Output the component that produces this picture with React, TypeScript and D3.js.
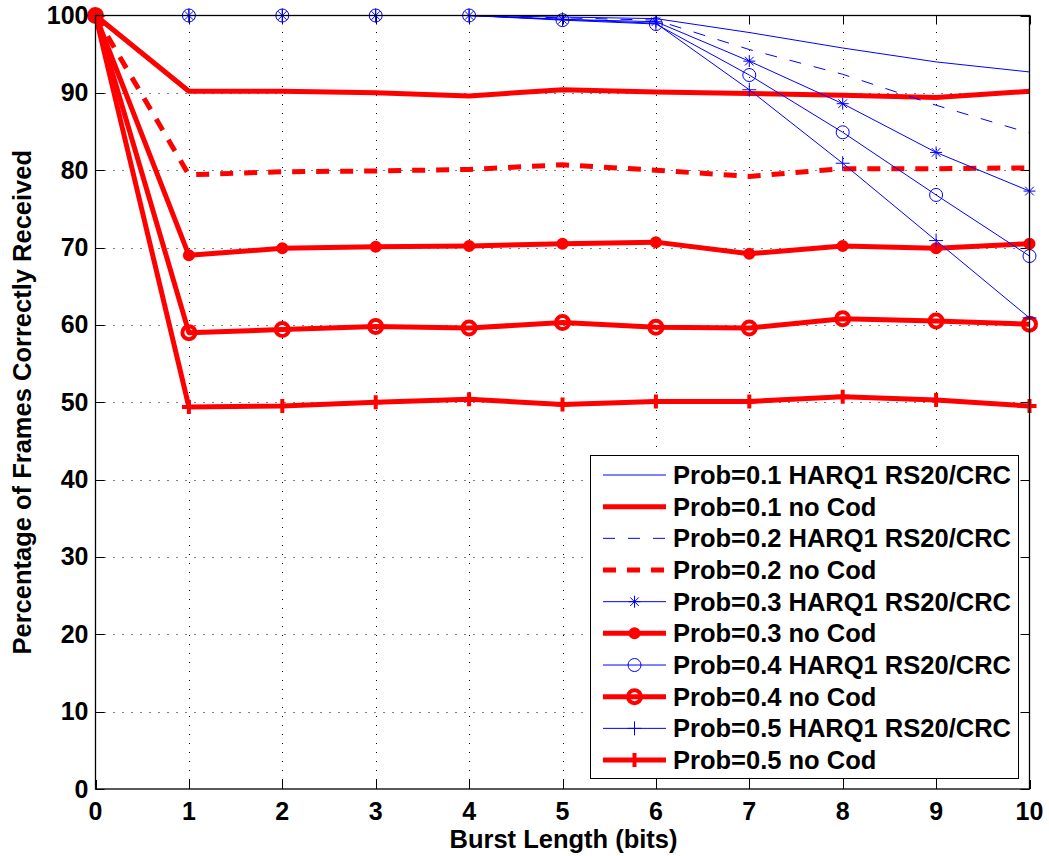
import React, { useEffect, useRef } from "react";
import * as d3 from "d3";

const burstLengths = [0, 1, 2, 3, 4, 5, 6, 7, 8, 9, 10];

const harq01 = [100, 100, 100, 100, 100, 99.8, 99.6, 97.8, 95.8, 94.0, 92.7];
const noCod01 = [100, 90.2, 90.2, 90.0, 89.6, 90.4, 90.1, 89.9, 89.7, 89.4, 90.2];
const harq02 = [100, 100, 100, 100, 100, 99.7, 99.4, 95.6, 92.4, 88.4, 84.8];
const noCod02 = [100, 79.4, 79.8, 79.9, 80.1, 80.7, 80.0, 79.2, 80.2, 80.2, 80.3];
const harq03 = [100, 100, 100, 100, 100, 99.5, 99.2, 94.1, 88.6, 82.3, 77.3];
const noCod03 = [100, 69.0, 69.9, 70.1, 70.2, 70.5, 70.7, 69.2, 70.2, 69.9, 70.5];
const harq04 = [100, 100, 100, 100, 100, 99.4, 98.9, 92.3, 84.9, 76.8, 68.9];
const noCod04 = [100, 59.0, 59.4, 59.8, 59.6, 60.3, 59.7, 59.6, 60.8, 60.5, 60.1];
const harq05 = [100, 100, 100, 100, 100, 99.5, 99.0, 90.4, 80.9, 70.9, 60.9];
const noCod05 = [100, 49.4, 49.5, 50.0, 50.4, 49.7, 50.1, 50.1, 50.7, 50.3, 49.5];

const seriesNames = [
  "Prob=0.1 HARQ1 RS20/CRC",
  "Prob=0.1 no Cod",
  "Prob=0.2 HARQ1 RS20/CRC",
  "Prob=0.2 no Cod",
  "Prob=0.3 HARQ1 RS20/CRC",
  "Prob=0.3 no Cod",
  "Prob=0.4 HARQ1 RS20/CRC",
  "Prob=0.4 no Cod",
  "Prob=0.5 HARQ1 RS20/CRC",
  "Prob=0.5 no Cod",
];

const xTicks = [0, 1, 2, 3, 4, 5, 6, 7, 8, 9, 10];
const yTicks = [0, 10, 20, 30, 40, 50, 60, 70, 80, 90, 100];

type Marker = "none" | "star" | "dot" | "circle" | "plus";
type Style = { color: string; width: number; dash: string | null; marker: Marker };

const styles: Style[] = [
  { color: "#0000ff", width: 1, dash: null, marker: "none" },
  { color: "#ff0000", width: 5, dash: null, marker: "none" },
  { color: "#0000ff", width: 1, dash: "12,13", marker: "none" },
  { color: "#ff0000", width: 5, dash: "13,11", marker: "none" },
  { color: "#0000ff", width: 1, dash: null, marker: "star" },
  { color: "#ff0000", width: 5, dash: null, marker: "dot" },
  { color: "#0000ff", width: 1, dash: null, marker: "circle" },
  { color: "#ff0000", width: 5, dash: null, marker: "circle" },
  { color: "#0000ff", width: 1, dash: null, marker: "plus" },
  { color: "#ff0000", width: 5, dash: null, marker: "plus" },
];

const FONT = "Arial, 'Liberation Sans', Helvetica, sans-serif";

function drawMarker(g: any, kind: Marker, cx: number, cy: number, color: string, thick: boolean) {
  const sw = thick ? 4 : 1;
  if (kind === "star") {
    const s = 6;
    const d = s * 0.72;
    g.append("path")
      .attr("d", `M${cx - s},${cy}L${cx + s},${cy}M${cx},${cy - s}L${cx},${cy + s}M${cx - d},${cy - d}L${cx + d},${cy + d}M${cx - d},${cy + d}L${cx + d},${cy - d}`)
      .attr("stroke", color)
      .attr("stroke-width", sw)
      .attr("fill", "none");
  } else if (kind === "dot") {
    g.append("circle")
      .attr("cx", cx)
      .attr("cy", cy)
      .attr("r", 5)
      .attr("fill", color)
      .attr("stroke", color)
      .attr("stroke-width", 2);
  } else if (kind === "circle") {
    g.append("circle")
      .attr("cx", cx)
      .attr("cy", cy)
      .attr("r", 6.5)
      .attr("fill", "none")
      .attr("stroke", color)
      .attr("stroke-width", sw);
  } else if (kind === "plus") {
    const s = 7;
    g.append("path")
      .attr("d", `M${cx - s},${cy}L${cx + s},${cy}M${cx},${cy - s}L${cx},${cy + s}`)
      .attr("stroke", color)
      .attr("stroke-width", sw)
      .attr("fill", "none");
  }
}

const App = () => {
  const ref = useRef<SVGSVGElement | null>(null);

  useEffect(() => {
    const W = 1049;
    const H = 856;
    const left = 95.5;
    const right = 1029.5;
    const top = 15.5;
    const bottom = 789;

    const svg = d3.select(ref.current).attr("width", W).attr("height", H);
    svg.selectAll("*").remove();

    const x = d3.scaleLinear().domain([0, 10]).range([left, right]);
    const y = d3.scaleLinear().domain([0, 100]).range([bottom, top]);

    svg.append("rect").attr("width", W).attr("height", H).attr("fill", "#fff");

    // grid
    const grid = svg.append("g").attr("stroke", "#000").attr("stroke-width", 1).attr("stroke-dasharray", "1,8");
    xTicks.slice(1, -1).forEach((t) => {
      grid.append("line").attr("x1", Math.round(x(t)) + 0.5).attr("x2", Math.round(x(t)) + 0.5).attr("y1", bottom).attr("y2", top);
    });
    yTicks.slice(1, -1).forEach((t) => {
      grid.append("line").attr("x1", left).attr("x2", right).attr("y1", Math.round(y(t)) + 0.5).attr("y2", Math.round(y(t)) + 0.5);
    });

    // ticks (inward, all four sides)
    const ticks = svg.append("g").attr("stroke", "#000").attr("stroke-width", 1);
    const tl = 9;
    xTicks.forEach((t) => {
      const px = Math.round(x(t)) + 0.5;
      ticks.append("line").attr("x1", px).attr("x2", px).attr("y1", bottom).attr("y2", bottom - tl);
      ticks.append("line").attr("x1", px).attr("x2", px).attr("y1", top).attr("y2", top + tl);
    });
    yTicks.forEach((t) => {
      const py = Math.round(y(t)) + 0.5;
      ticks.append("line").attr("x1", left).attr("x2", left + tl).attr("y1", py).attr("y2", py);
      ticks.append("line").attr("x1", right).attr("x2", right - tl).attr("y1", py).attr("y2", py);
    });

    // series
    const line = d3
      .line<number>()
      .x((d, i) => x(burstLengths[i]))
      .y((d) => y(d));
    const allSeries = [harq01, noCod01, harq02, noCod02, harq03, noCod03, harq04, noCod04, harq05, noCod05];
    const plot = svg.append("g");
    allSeries.forEach((vals, k) => {
      const st = styles[k];
      const p = plot
        .append("path")
        .datum(vals)
        .attr("d", line)
        .attr("fill", "none")
        .attr("stroke", st.color)
        .attr("stroke-width", st.width)
        .attr("stroke-linejoin", "round");
      if (st.dash) p.attr("stroke-dasharray", st.dash);
      if (st.marker !== "none") {
        const mg = plot.append("g");
        vals.forEach((v, i) => drawMarker(mg, st.marker, x(burstLengths[i]), y(v), st.color, st.width > 1));
      }
    });

    // axes box
    svg
      .append("rect")
      .attr("x", left)
      .attr("y", top)
      .attr("width", right - left)
      .attr("height", bottom - top)
      .attr("fill", "none")
      .attr("stroke", "#000")
      .attr("stroke-width", 1.3);

    // tick labels
    const tlab = svg.append("g").style("font-family", FONT).style("font-weight", "bold").style("font-size", "25px");
    yTicks.forEach((t) => {
      tlab
        .append("text")
        .attr("x", left - 7)
        .attr("y", y(t) + 8.5)
        .attr("text-anchor", "end")
        .text(t);
    });
    xTicks.forEach((t) => {
      tlab
        .append("text")
        .attr("x", x(t))
        .attr("y", 820)
        .attr("text-anchor", "middle")
        .text(t);
    });

    // axis titles
    svg
      .append("text")
      .attr("x", (left + right) / 2 + 1)
      .attr("y", 848)
      .attr("text-anchor", "middle")
      .style("font-family", FONT)
      .style("font-weight", "bold")
      .style("font-size", "25.5px")
      .text("Burst Length (bits)");
    svg
      .append("text")
      .attr("transform", `translate(31,${(top + bottom) / 2}) rotate(-90)`)
      .attr("text-anchor", "middle")
      .style("font-family", FONT)
      .style("font-weight", "bold")
      .style("font-size", "25.5px")
      .text("Percentage of Frames Correctly Received");

    // legend
    const lg = svg.append("g");
    lg.append("rect")
      .attr("x", 590.5)
      .attr("y", 455.5)
      .attr("width", 428)
      .attr("height", 323)
      .attr("fill", "#fff")
      .attr("stroke", "#000")
      .attr("stroke-width", 1);
    seriesNames.forEach((name, k) => {
      const st = styles[k];
      const cy = 475 + k * 31.67;
      const l = lg
        .append("line")
        .attr("x1", 603)
        .attr("x2", 666)
        .attr("y1", cy)
        .attr("y2", cy)
        .attr("stroke", st.color)
        .attr("stroke-width", st.width);
      if (st.dash) l.attr("stroke-dasharray", st.dash);
      if (st.marker !== "none") drawMarker(lg, st.marker, 634.5, cy, st.color, st.width > 1);
      lg.append("text")
        .attr("x", 673)
        .attr("y", cy + 9)
        .style("font-family", FONT)
        .style("font-weight", "bold")
        .style("font-size", "25.5px")
        .text(name);
    });
  }, []);

  return (
    <div>
      <svg ref={ref} style={{ position: "absolute", left: 0, top: 0, display: "block" }}></svg>
    </div>
  );
};

export default App;
